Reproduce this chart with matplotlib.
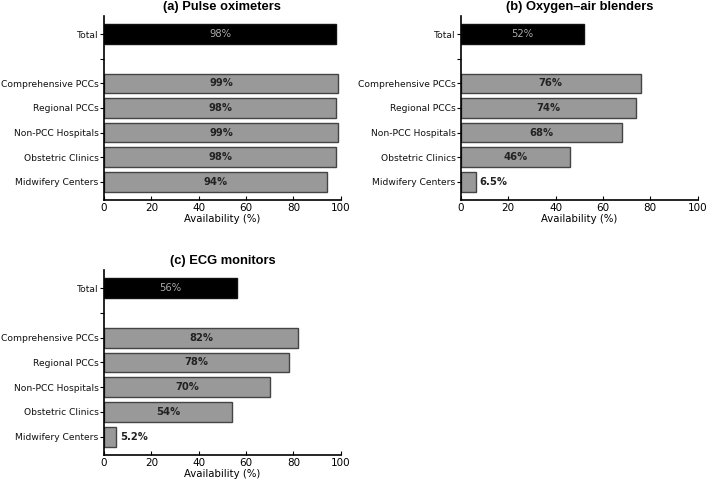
import matplotlib.pyplot as plt

categories = ["Total", "", "Comprehensive PCCs", "Regional PCCs",
              "Non-PCC Hospitals", "Obstetric Clinics", "Midwifery Centers"]

titles = ["(a) Pulse oximeters", "(b) Oxygen\u2013air blenders", "(c) ECG monitors"]
total_vals = [98, 52, 56]
pulse_ox = [99, 98, 99, 98, 94]
blenders = [76, 74, 68, 46, 6.5]
ecg = [82, 78, 70, 54, 5.2]
group_vals = [pulse_ox, blenders, ecg]

fig = plt.figure(figsize=(7.09, 4.83), dpi=100)
positions = [
    [0.1467, 0.586, 0.334, 0.381],
    [0.650, 0.586, 0.334, 0.381],
    [0.1467, 0.058, 0.334, 0.383],
]


def fmt(v):
    return f"{v:g}%" if v < 10 else f"{v:.0f}%"


for pos, title, tot, vals in zip(positions, titles, total_vals, group_vals):
    ax = fig.add_axes(pos)
    ypos = list(range(len(categories)))
    ax.barh(ypos[0], tot, height=0.8, color="black", edgecolor="#111111")
    ax.barh(ypos[2:], vals, height=0.8, color="#999999", edgecolor="#444444", linewidth=1)
    ax.text(tot / 2, ypos[0], fmt(tot), ha="center", va="center",
            color="#aaaaaa", fontsize=7.2)
    for y, v in zip(ypos[2:], vals):
        if v < 15:
            ax.text(v + 1.5, y, fmt(v), ha="left", va="center",
                    fontsize=7.2, fontweight="bold", color="#222222")
        else:
            ax.text(v / 2, y, fmt(v), ha="center", va="center",
                    fontsize=7.2, fontweight="bold", color="#222222")
    ax.set_yticks(ypos)
    ax.set_yticklabels(categories, fontsize=6.6, color="#111111")
    ax.invert_yaxis()
    ax.set_xlim(0, 100)
    ax.set_xticks([0, 20, 40, 60, 80, 100])
    ax.tick_params(axis="x", labelsize=7.5, direction="in", length=3, pad=2)
    ax.tick_params(axis="y", length=3, pad=0.8)
    ax.set_xlabel("Availability (%)", fontsize=7.3, labelpad=1)
    ax.set_title(title, fontsize=9.3, fontweight="bold", pad=4,
                 family="Liberation Sans")
    ax.spines["top"].set_visible(False)
    ax.spines["right"].set_visible(False)
    ax.spines["left"].set_linewidth(1.2)
    ax.spines["bottom"].set_linewidth(1.2)

fig.savefig("out.png", dpi=100)
